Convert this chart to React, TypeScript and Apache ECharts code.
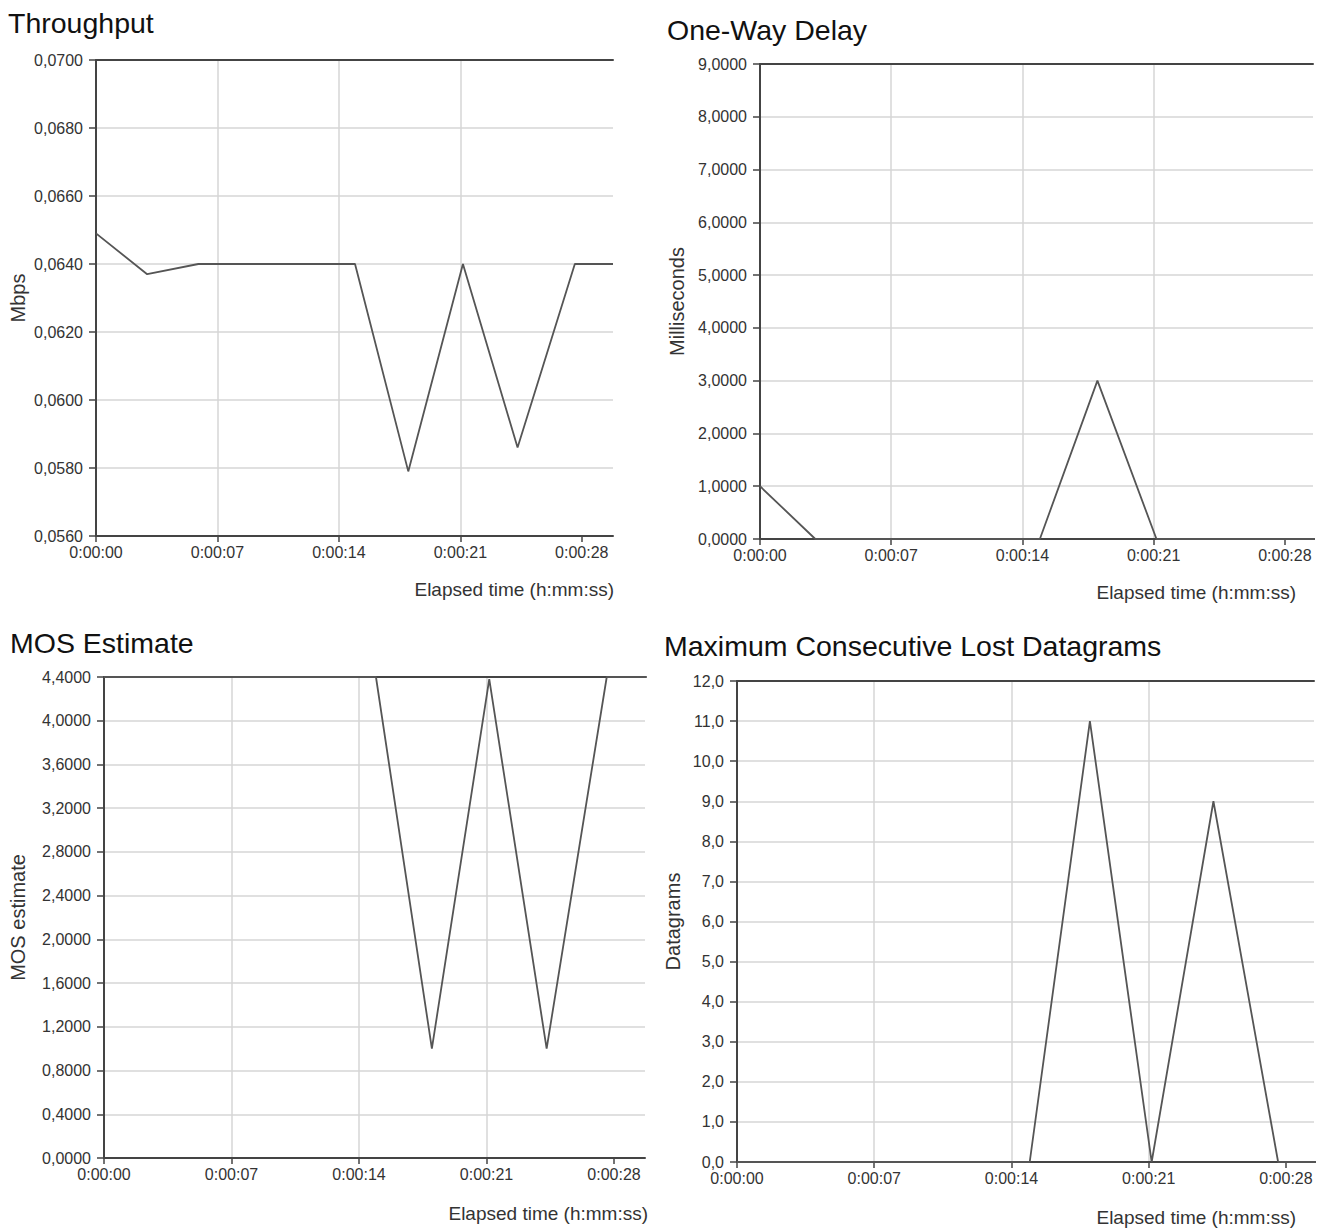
import React, { useEffect, useRef } from "react";
import * as echarts from "echarts";

// ---- data (elapsed seconds and sampled values) ----
const elapsedSeconds = [0, 2.95, 5.9, 14.93, 18.0, 21.15, 24.3, 27.6, 29.8];
const throughputMbps = [0.0649, 0.0637, 0.064, 0.064, 0.0579, 0.064, 0.0586, 0.064, 0.064];
const oneWayDelayMs = [1.0, 0, 0, 0, 3.0, 0, 0, 0, 0];
const mosEstimate = [4.4, 4.4, 4.4, 4.4, 1.0, 4.38, 1.0, 4.4, 4.4];
const lostDatagrams = [0, 0, 0, 0, 11, 0, 9, 0, 0];

const xTickSeconds = [0, 7, 14, 21, 28];
const chartTitles = ["Throughput", "One-Way Delay", "MOS Estimate", "Maximum Consecutive Lost Datagrams"];
const yAxisNames = ["Mbps", "Milliseconds", "MOS estimate", "Datagrams"];
const xAxisName = "Elapsed time (h:mm:ss)";
const yRanges = [
  { min: 0.056, max: 0.07, step: 0.002, decimals: 4 },
  { min: 0, max: 9, step: 1, decimals: 4 },
  { min: 0, max: 4.4, step: 0.4, decimals: 4 },
  { min: 0, max: 12, step: 1, decimals: 1 },
];
const seriesValues = [throughputMbps, oneWayDelayMs, mosEstimate, lostDatagrams];

// ---- layout (positions / sizes) ----
const layout = [
  { grid: { left: 96, top: 60, width: 517, height: 476 }, xMax: 29.8, yNameGap: 68, title: { left: 8, top: 8 }, xNamePad: [44, 0, 0, 0], xNameGap: 1 },
  { grid: { left: 760, top: 64, width: 553, height: 475 }, xMax: 29.5, yNameGap: 73, title: { left: 667, top: 15 }, xNamePad: [44, 17, 0, 0], xNameGap: 0 },
  { grid: { left: 104, top: 677, width: 541, height: 481 }, xMax: 29.7, yNameGap: 76, title: { left: 10, top: 628 }, xNamePad: [46, 0, 0, 0], xNameGap: 3 },
  { grid: { left: 737, top: 681, width: 577, height: 481 }, xMax: 29.43, yNameGap: 54, title: { left: 664, top: 631 }, xNamePad: [46, 18, 0, 0], xNameGap: 0 },
];

const FONT = "'Liberation Sans', Arial, sans-serif";

function pad2(n: number) {
  return n < 10 ? "0" + n : String(n);
}
function formatElapsed(v: number) {
  const total = Math.round(v);
  const h = Math.floor(total / 3600);
  const m = Math.floor((total % 3600) / 60);
  const s = total % 60;
  return `${h}:${pad2(m)}:${pad2(s)}`;
}

function buildOption() {
  const title: any[] = [];
  const grid: any[] = [];
  const xAxis: any[] = [];
  const yAxis: any[] = [];
  const series: any[] = [];

  layout.forEach((L, i) => {
    const yr = yRanges[i];
    title.push({
      text: chartTitles[i],
      left: L.title.left,
      top: L.title.top,
      padding: 0,
      textStyle: { fontFamily: FONT, fontSize: 28.5, fontWeight: "normal", color: "#111" },
    });
    grid.push({ ...L.grid, containLabel: false });
    // bottom time axis
    xAxis.push({
      type: "value",
      gridIndex: i,
      min: 0,
      max: L.xMax,
      interval: 7,
      position: "bottom",
      name: xAxisName,
      nameLocation: "end",
      nameGap: L.xNameGap,
      nameTextStyle: {
        fontFamily: FONT,
        fontSize: 19,
        color: "#333",
        align: "right",
        verticalAlign: "top",
        padding: L.xNamePad,
      },
      axisLine: { show: true, onZero: false, lineStyle: { color: "#444", width: 2 } },
      axisTick: { show: true, length: 6, customValues: xTickSeconds, lineStyle: { color: "#444", width: 1.5 } },
      axisLabel: {
        customValues: xTickSeconds,
        margin: 8,
        fontFamily: FONT,
        fontSize: 16,
        color: "#333",
        formatter: (v: number) => formatElapsed(v),
      },
      splitLine: { show: true, showMaxLine: false, lineStyle: { color: "#d6d6d6", width: 1.5 } },
    });
    // top border axis
    xAxis.push({
      type: "value",
      gridIndex: i,
      min: 0,
      max: L.xMax,
      position: "top",
      axisLine: { show: true, onZero: false, lineStyle: { color: "#444", width: 2 } },
      axisTick: { show: false },
      axisLabel: { show: false },
      splitLine: { show: false },
    });
    yAxis.push({
      type: "value",
      gridIndex: i,
      min: yr.min,
      max: yr.max,
      interval: yr.step,
      name: yAxisNames[i],
      nameLocation: "middle",
      nameRotate: 90,
      nameGap: L.yNameGap,
      nameTextStyle: { fontFamily: FONT, fontSize: 20, color: "#333" },
      axisLine: { show: true, onZero: false, lineStyle: { color: "#444", width: 2 } },
      axisTick: { show: true, length: 7, lineStyle: { color: "#444", width: 1.5 } },
      axisLabel: {
        margin: 13,
        fontFamily: FONT,
        fontSize: 16,
        color: "#333",
        formatter: (v: number) => v.toFixed(yr.decimals).replace(".", ","),
      },
      splitLine: { show: true, lineStyle: { color: "#d6d6d6", width: 1.5 } },
    });
    series.push({
      type: "line",
      xAxisIndex: i * 2,
      yAxisIndex: i,
      data: elapsedSeconds.map((t, k) => [t, seriesValues[i][k]]),
      symbol: "none",
      showSymbol: false,
      clip: true,
      lineStyle: { color: "#555", width: 1.8 },
      z: 3,
    });
  });

  return {
    animation: false,
    backgroundColor: "#fff",
    title,
    grid,
    xAxis,
    yAxis,
    series,
  };
}

export default function App() {
  const ref = useRef<HTMLDivElement>(null);
  useEffect(() => {
    if (!ref.current) return;
    const chart = echarts.init(ref.current, undefined, { renderer: "svg" });
    chart.setOption(buildOption() as any);
    return () => chart.dispose();
  }, []);
  return (
    <div
      ref={ref}
      style={{ position: "absolute", left: 0, top: 0, width: 1325, height: 1228, background: "#fff" }}
    />
  );
}
